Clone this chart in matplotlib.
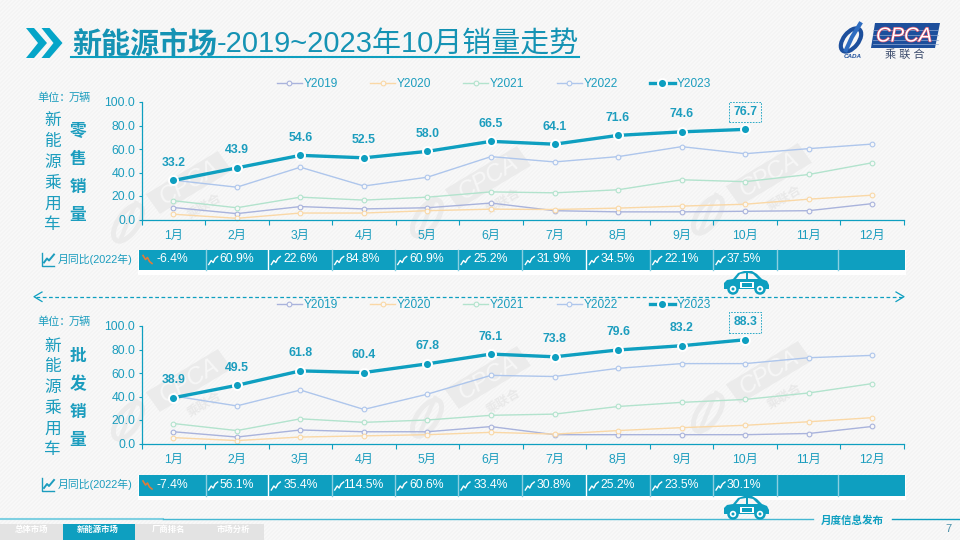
"""
NEV market: monthly sales trend 2019~2023 (retail + wholesale panels)
"""
import numpy as np
import matplotlib
matplotlib.use("Agg")
import matplotlib.pyplot as plt
import matplotlib.patheffects as pe
from matplotlib.patches import Polygon, Rectangle, Ellipse, Circle

plt.rcParams['font.family'] = ['Liberation Sans', 'Noto Sans CJK SC', 'DejaVu Sans']

# ─── Data ─────────────────────────────────────────────────────────────────────
months = ['1月', '2月', '3月', '4月', '5月', '6月', '7月', '8月', '9月', '10月', '11月', '12月']
years = ['Y2019', 'Y2020', 'Y2021', 'Y2022', 'Y2023']

retail_2019 = [10.2, 5.0, 11.0, 9.0, 10.0, 14.0, 7.5, 6.5, 6.5, 7.0, 7.5, 13.5]
retail_2020 = [4.5, 1.0, 5.5, 5.5, 7.5, 8.8, 8.5, 9.7, 11.4, 13.0, 17.3, 20.7]
retail_2021 = [16.0, 10.0, 19.0, 16.5, 19.0, 23.5, 22.7, 25.3, 33.8, 32.2, 38.3, 48.3]
retail_2022 = [33.5, 27.5, 44.5, 28.5, 36.0, 53.5, 49.0, 53.5, 62.0, 56.0, 60.3, 64.2]
retail_2023 = [33.2, 43.9, 54.6, 52.5, 58.0, 66.5, 64.1, 71.6, 74.6, 76.7]
retail_yoy = ['-6.4%', '60.9%', '22.6%', '84.8%', '60.9%', '25.2%', '31.9%', '34.5%', '22.1%', '37.5%']

whole_2019 = [10.0, 5.5, 11.5, 10.0, 10.0, 14.4, 7.5, 7.5, 7.5, 7.5, 8.5, 14.5]
whole_2020 = [5.0, 2.5, 5.5, 6.5, 7.5, 9.5, 8.0, 11.0, 13.5, 15.5, 18.5, 22.0]
whole_2021 = [17.0, 11.0, 21.0, 18.0, 20.0, 24.0, 25.0, 31.5, 35.0, 37.5, 43.0, 51.0]
whole_2022 = [40.5, 32.0, 45.5, 29.0, 42.0, 58.0, 57.0, 64.0, 68.0, 68.0, 73.0, 75.0]
whole_2023 = [38.9, 49.5, 61.8, 60.4, 67.8, 76.1, 73.8, 79.6, 83.2, 88.3]
whole_yoy = ['-7.4%', '56.1%', '35.4%', '114.5%', '60.6%', '33.4%', '30.8%', '25.2%', '23.5%', '30.1%']

# ─── Styles ───────────────────────────────────────────────────────────────────
TEAL = '#0E9FC0'
TEXT = '#1C9DBE'
line_colors = ['#A9B3DC', '#FAD8A6', '#B2E3CD', '#AEC6EC']
cell_edges = [139, 205.7, 268.3, 331.7, 394.7, 458, 522.3, 586.3, 649.7, 713, 776.7, 838, 905]
yoy_centers = [172, 236.7, 300.7, 363, 426.7, 491, 553.7, 618, 681.7, 744]

fig = plt.figure(figsize=(9.6, 5.4), dpi=100)

# full-figure layer in pixel coordinates, for everything that is not the chart
bg = fig.add_axes([0, 0, 1, 1], zorder=0)
bg.set_xlim(0, 960)
bg.set_ylim(540, 0)
bg.axis('off')

# faint diagonal hatch of the slide background
yy, xx = np.mgrid[0:540, 0:960]
hatch = ((xx + yy) % 4 < 2) * 1.0
bg.imshow(hatch, cmap=matplotlib.colors.ListedColormap(['#F4F4F4', '#F8F8F8']),
          extent=[0, 960, 540, 0], aspect='auto', interpolation='nearest', zorder=0)


def watermark(x, y):
    c, s = np.cos(np.radians(-31)), np.sin(np.radians(-31))
    w, h = 42, 12
    corners = [(-w, -h), (w, -h), (w + 2, h), (-w + 2, h)]
    pts = [(x + a * c - b * s, y + a * s + b * c) for a, b in corners]
    bg.add_patch(Polygon(pts, closed=True, fc='#EBEBEB', ec='none', zorder=1))
    bg.text(x + 1, y, 'CPCA', color='#F7F7F7', fontsize=17, style='italic', rotation=31,
            ha='center', va='center', zorder=2)
    bg.text(x + 17, y + 24, '乘联合', color='#E9E9E9', fontsize=9, fontweight='bold', rotation=31,
            ha='center', va='center', zorder=2)
    bg.add_patch(Ellipse((x - 60, y + 40), 20, 42, angle=35, fc='none', ec='#EBEBEB', lw=3.5, zorder=1))
    bg.plot([x - 52, x - 60, x - 68], [y + 20, y + 38, y + 58], color='#EBEBEB', lw=3, zorder=1)


for wx, wy in [(188, 183), (487, 178), (768, 175), (188, 381), (487, 378), (768, 373)]:
    watermark(wx, wy)

# ─── Header ───────────────────────────────────────────────────────────────────
for x0 in [26, 41.5]:
    bg.add_patch(Polygon([(x0, 28), (x0 + 8, 28), (x0 + 21, 43), (x0 + 8, 58), (x0, 58), (x0 + 12, 43)],
                         closed=True, fc='#05A5C8', ec='none', zorder=3))
bg.text(72, 53, '新能源市场', color='#1593B4', fontsize=20.9, fontweight='bold',
        ha='left', va='baseline', zorder=3)
bg.text(217, 53, '-2019~2023年10月销量走势', color='#1593B4', fontsize=20.9,
        ha='left', va='baseline', zorder=3)
bg.plot([71, 579], [57, 57], color=TEAL, lw=1.5, zorder=3)

# CPCA logo
bg.add_patch(Polygon([(875, 23), (940, 23), (935, 48), (871, 48)], closed=True, fc='#1D4F9C', ec='none', zorder=3))
for ly in [30, 35, 40, 44]:
    bg.plot([873, 938], [ly, ly], color='#8FA9D2', lw=0.5, zorder=3)
bg.text(904, 36, 'CPCA', color='white', fontsize=14.5, style='italic', ha='center', va='center', zorder=4,
        path_effects=[pe.withStroke(linewidth=1.0, foreground='#D8506A')])
bg.text(905, 54.5, '乘 联 合', color='#3A4A6B', fontsize=8, ha='center', va='center', zorder=3)
bg.add_patch(Ellipse((851, 40), 15, 27, angle=38, fc='none', ec='#1D4F9C', lw=3, zorder=3))
bg.plot([860, 852, 846], [24, 37, 50], color='#2E6CC0', lw=3, zorder=3)
bg.text(853, 56, 'CADA', color='#1D4F9C', fontsize=4.5, fontweight='bold', style='italic',
        ha='center', va='center', zorder=3)

# ─── Footer ───────────────────────────────────────────────────────────────────
bg.plot([0, 163], [519.3, 519.3], color='#7FD0E2', lw=1.5, zorder=3)
bg.plot([163, 813], [519.3, 519.3], color='#45B8D3', lw=1, zorder=3)
bg.plot([892, 960], [519.3, 519.3], color=TEAL, lw=1, zorder=3)
bg.text(852, 520.5, '月度信息发布', color=TEAL, fontsize=7.6, fontweight='bold', style='italic',
        ha='center', va='center', zorder=3)
bg.text(948, 529, '7', color='#4A8FA8', fontsize=8, ha='center', va='center', zorder=3)
bg.add_patch(Rectangle((0, 524), 264, 16, fc='#E3E3E3', ec='none', zorder=2))
bg.add_patch(Rectangle((63, 524), 72, 16, fc=TEAL, ec='none', zorder=3))
for tab, tx in zip(['总体市场', '新能源市场', '厂商排名', '市场分析'], [31, 98, 168, 233]):
    bg.text(tx, 530, tab, color='white', fontsize=6, fontweight='bold', ha='center', va='center', zorder=4)

# dashed divider with chevrons on both ends
bg.plot([36, 902], [296.7, 296.7], color=TEAL, lw=0.9, dashes=(3, 2), zorder=3)
bg.plot([42, 34, 42], [292, 296.7, 301.5], color=TEAL, lw=0.9, zorder=3)
bg.plot([896, 904, 896], [292, 296.7, 301.5], color=TEAL, lw=0.9, zorder=3)


def draw_car(x, y):
    # x, y = left / bottom of the car in pixels
    body = Polygon([(x, y - 5), (x, y - 10), (x + 3, y - 13), (x + 9, y - 14), (x + 14, y - 20), (x + 20, y - 22),
                    (x + 28, y - 22), (x + 33, y - 19), (x + 38, y - 14), (x + 43, y - 12), (x + 45, y - 8),
                    (x + 45, y - 4), (x, y - 4)], closed=True, fc=TEAL, ec='none', zorder=5)
    bg.add_patch(body)
    bg.add_patch(Polygon([(x + 12, y - 14), (x + 16, y - 19), (x + 22, y - 20), (x + 22, y - 14)],
                         closed=True, fc='#F6F6F6', ec='none', zorder=6))
    bg.add_patch(Polygon([(x + 24, y - 14), (x + 24, y - 20), (x + 29, y - 19), (x + 34, y - 14)],
                         closed=True, fc='#F6F6F6', ec='none', zorder=6))
    for wx in [x + 9, x + 36]:
        bg.add_patch(Circle((wx, y - 4), 4.5, fc='white', ec=TEAL, lw=1.8, zorder=6))
        bg.add_patch(Circle((wx, y - 4), 1.5, fc=TEAL, ec='none', zorder=7))
    bg.add_patch(Rectangle((x + 16, y - 11), 14, 6, fc='white', ec='none', zorder=6))
    bg.add_patch(Rectangle((x + 18, y - 10), 10, 4, fc=TEAL, ec='none', zorder=7))


def trend_icon(x, y, down=False):
    # little zigzag arrow at the head of each month-on-month cell
    px = np.array([0, 2.5, 4.5, 6.5, 9]) + x
    py = np.array([0, -4, -2, -6, -8]) + y
    if down:
        bg.plot(px, y - 8 - (py - y) - 1, color='#E07B39', lw=1.2, zorder=5)
    else:
        bg.plot(px, py, color='white', lw=1.0, zorder=5)


# ─── One panel: line chart + month-on-month strip ─────────────────────────────
def draw_panel(top, name, s2019, s2020, s2021, s2022, s2023, yoy, legend_y, cell_top, dy):
    ax = fig.add_axes([141.5 / 960, 1 - (top + 117.5) / 540, 762.5 / 960, 117.5 / 540], zorder=2)
    ax.patch.set_alpha(0)
    x = np.arange(12) + 0.5

    for ys, col, lab in zip([s2019, s2020, s2021, s2022], line_colors, years):
        ax.plot(x, ys, color=col, lw=1.0, marker='o', ms=3.4, mfc='#F8F8F8', mec=col, mew=0.8,
                label=lab, clip_on=False)
    x23 = x[:len(s2023)]
    ax.plot(x23, s2023, color=TEAL, lw=2.4, marker='o', ms=6.5, mfc=TEAL, mec='white', mew=1.4,
            label=years[4], clip_on=False, zorder=5)

    for i, (xi, v) in enumerate(zip(x23, s2023)):
        last = i == len(s2023) - 1
        ax.annotate(f'{v:.1f}', (xi, v), xytext=(0, 12.6), textcoords='offset points', ha='center',
                    va='center', color=TEXT, fontsize=8.8, fontweight='bold', zorder=6,
                    bbox=dict(boxstyle='square,pad=0.35', fc='none', ec=TEAL, lw=0.6, ls=(0, (2, 1.5))) if last else None)

    ax.set_xlim(0, 12)
    ax.set_ylim(0, 100)
    ax.set_yticks(np.arange(0, 101, 20))
    ax.set_yticklabels([f'{v:.1f}' for v in np.arange(0, 101, 20)])
    ax.set_xticks(np.arange(0, 13))
    ax.set_xticklabels([])
    ax.set_xticks(x, minor=True)
    ax.set_xticklabels(months, minor=True)
    ax.tick_params(axis='x', which='major', length=3.5, width=0.8, color=TEAL)
    ax.tick_params(axis='x', which='minor', length=0, pad=7.5, labelsize=8.8, labelcolor=TEXT)
    ax.tick_params(axis='y', length=2.5, width=0.8, color=TEAL, pad=2, labelsize=8.8, labelcolor=TEXT)
    for side in ['top', 'right']:
        ax.spines[side].set_visible(False)
    for side in ['left', 'bottom']:
        ax.spines[side].set_color(TEAL)
        ax.spines[side].set_linewidth(0.9)

    ax.legend(loc='center', bbox_to_anchor=(494 / 960, 1 - legend_y / 540), bbox_transform=fig.transFigure,
              ncol=5, frameon=False, fontsize=8.6, labelcolor=TEXT, handlelength=2.1, handletextpad=0.15,
              columnspacing=2.68, borderpad=0, borderaxespad=0)

    # left side captions
    bg.text(37, top - 4, '单位：', color=TEXT, fontsize=8, ha='left', va='center', zorder=3)
    bg.text(69, top - 4, '万辆', color=TEXT, fontsize=8, ha='left', va='center', zorder=3)
    for i, ch in enumerate('新能源乘用车'):
        bg.text(52.5, 121 + dy + i * 20.7, ch, color=TEXT, fontsize=12, ha='center', va='center', zorder=3)
    for i, ch in enumerate(name):
        bg.text(78, 131 + dy + i * 28.2, ch, color=TEXT, fontsize=12, fontweight='bold',
                ha='center', va='center', zorder=3)

    # month-on-month strip
    bg.add_patch(Rectangle((138, cell_top), 768, 25, fc='white', ec='none', zorder=3))
    for i in range(12):
        x0, x1 = cell_edges[i], cell_edges[i + 1]
        bg.add_patch(Rectangle((x0, cell_top), x1 - x0, 20.5, fc=TEAL, ec='none', zorder=4))
        if i < 11:
            sep = 'white' if i in (1, 6) else '#8CCFE0'
            bg.plot([x1, x1], [cell_top, cell_top + 20.5], color=sep, lw=1.0, zorder=5)
    for i, (cx, label) in enumerate(zip(yoy_centers, yoy)):
        bg.text(cx, cell_top + 9.5, label, color='white', fontsize=8.8, ha='center', va='center', zorder=5)
        trend_icon(cell_edges[i] + (3 if i else 4), cell_top + 15, down=label.startswith('-'))

    bg.plot([42, 42, 54], [cell_top + 3, cell_top + 16, cell_top + 16], color=TEXT, lw=1, zorder=3)
    bg.plot([44, 47, 49, 54], [cell_top + 13, cell_top + 9, cell_top + 11, cell_top + 5], color=TEXT, lw=1.4, zorder=3)
    bg.text(58, cell_top + 9.5, '月同比(2022年)', color=TEXT, fontsize=7.8, ha='left', va='center', zorder=3)


draw_panel(102, '零售销量', retail_2019, retail_2020, retail_2021, retail_2022, retail_2023,
           retail_yoy, 84, 249.5, 0)
draw_panel(326, '批发销量', whole_2019, whole_2020, whole_2021, whole_2022, whole_2023,
           whole_yoy, 305, 475, 225)

draw_car(724, 293)
draw_car(724, 518)

fig.savefig('out.png', dpi=100)
plt.close(fig)
